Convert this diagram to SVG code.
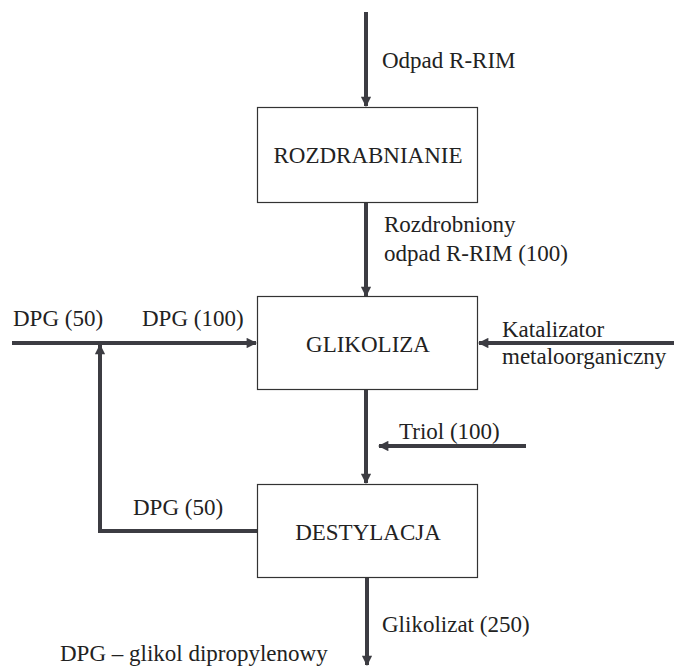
<svg xmlns="http://www.w3.org/2000/svg" width="674" height="666" viewBox="0 0 674 666">
<style>
text{font-family:'Liberation Serif','Times New Roman',serif;font-size:23px;fill:#222}
.box{fill:#fff;stroke:#333;stroke-width:1.2}
.c{text-anchor:middle}
.ln{fill:none;stroke:#3c3c42;stroke-width:4}
</style>
<defs>
<marker id="ah" viewBox="0 0 10 10" refX="9" refY="5" markerWidth="2.8" markerHeight="2.6" orient="auto" markerUnits="strokeWidth">
<path d="M0,0 L10,5 L0,10 z" fill="#3c3c42"/>
</marker>
</defs>
<rect width="674" height="666" fill="#fff"/>
<g id="connectors">
<line class="ln" x1="366" y1="12" x2="366" y2="106" marker-end="url(#ah)"/>
<line class="ln" x1="366" y1="202" x2="366" y2="296" marker-end="url(#ah)"/>
<line class="ln" x1="12" y1="343" x2="256" y2="343" marker-end="url(#ah)"/>
<line class="ln" x1="674" y1="343" x2="479" y2="343" marker-end="url(#ah)"/>
<polyline class="ln" points="257,531 100,531 100,345" marker-end="url(#ah)"/>
<line class="ln" x1="366" y1="390" x2="366" y2="483" marker-end="url(#ah)"/>
<line class="ln" x1="526" y1="446" x2="379" y2="446" marker-end="url(#ah)"/>
<line class="ln" x1="367" y1="577" x2="367" y2="665" marker-end="url(#ah)"/>
</g>
<g id="rozdrabnianie">
<rect class="box" x="257.5" y="107.5" width="220" height="95"/>
<text class="c" x="368" y="163">ROZDRABNIANIE</text>
</g>
<g id="glikoliza">
<rect class="box" x="257.5" y="296.5" width="220" height="93"/>
<text class="c" x="368" y="352">GLIKOLIZA</text>
</g>
<g id="destylacja">
<rect class="box" x="257.5" y="484.5" width="220" height="93"/>
<text class="c" x="368" y="540">DESTYLACJA</text>
</g>
<g id="labels">
<text x="382" y="68">Odpad R-RIM</text>
<text x="384" y="232">Rozdrobniony</text>
<text x="384" y="261">odpad R-RIM (100)</text>
<text x="13" y="326">DPG (50)</text>
<text x="142" y="326">DPG (100)</text>
<text x="502" y="337">Katalizator</text>
<text x="502" y="364">metaloorganiczny</text>
<text x="399" y="439">Triol (100)</text>
<text x="133" y="515">DPG (50)</text>
<text x="382" y="632">Glikolizat (250)</text>
<text x="60" y="661">DPG – glikol dipropylenowy</text>
</g>
</svg>
